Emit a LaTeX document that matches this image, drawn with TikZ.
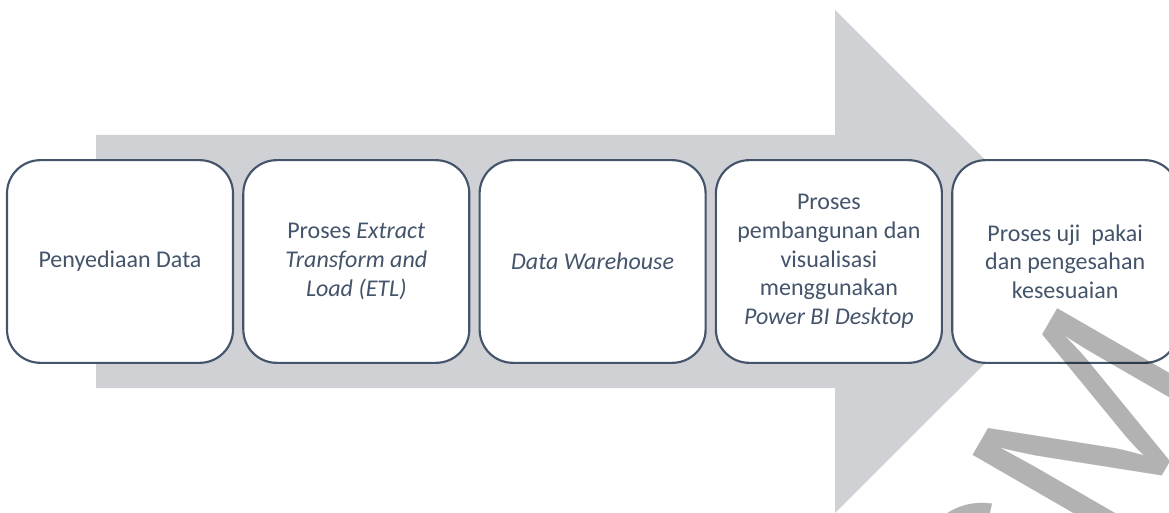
\documentclass[tikz,border=0pt]{standalone}
\usepackage{fontspec}
\setmainfont{Carlito}
\newfontfamily\wmfont{Liberation Sans}
\definecolor{arrowgray}{RGB}{208,209,213}
\definecolor{slate}{RGB}{68,84,106}
\begin{document}
\begin{tikzpicture}[x=0.75pt,y=-0.75pt,
  stepbox/.style={draw=slate, line width=1.6pt, fill=white, rounded corners=25pt,
    minimum width=169.5pt, minimum height=152pt, align=center, text=slate,
    font=\fontsize{18}{21.5}\selectfont, inner sep=0pt},
  wm/.style={text=black, opacity=0.3, font=\wmfont\fontsize{190}{190}\selectfont, inner sep=0pt}]
\useasboundingbox (0,0) rectangle (1169,513);
\clip (0,0) rectangle (1169,513);
\fill[white] (0,0) rectangle (1169,513);
% big arrow
\fill[arrowgray] (96,135) -- (835,135) -- (835,10) -- (1087,261.5) -- (835,513) -- (835,388) -- (96,388) -- cycle;
% steps
\node[stepbox] (s1) at (120,261.5) {Penyediaan Data};
\node[stepbox] (s2) at (356.3,261.5) {Proses \textit{Extract}\\\textit{Transform and}\\\textit{Load (ETL)}};
\node[stepbox] (s3) at (592.6,261.5) {\textit{Data Warehouse}};
\node[stepbox] (s4) at (828.9,261.5) {Proses\\pembangunan dan\\visualisasi\\menggunakan\\\textit{Power BI Desktop}};
\node[stepbox] (s5) at (1065.2,261.5) {Proses uji\ \ pakai\\dan pengesahan\\kesesuaian};
% watermark
\node[wm, rotate=60] (wmark) at (1045,505) {CM};
\end{tikzpicture}
\end{document}
